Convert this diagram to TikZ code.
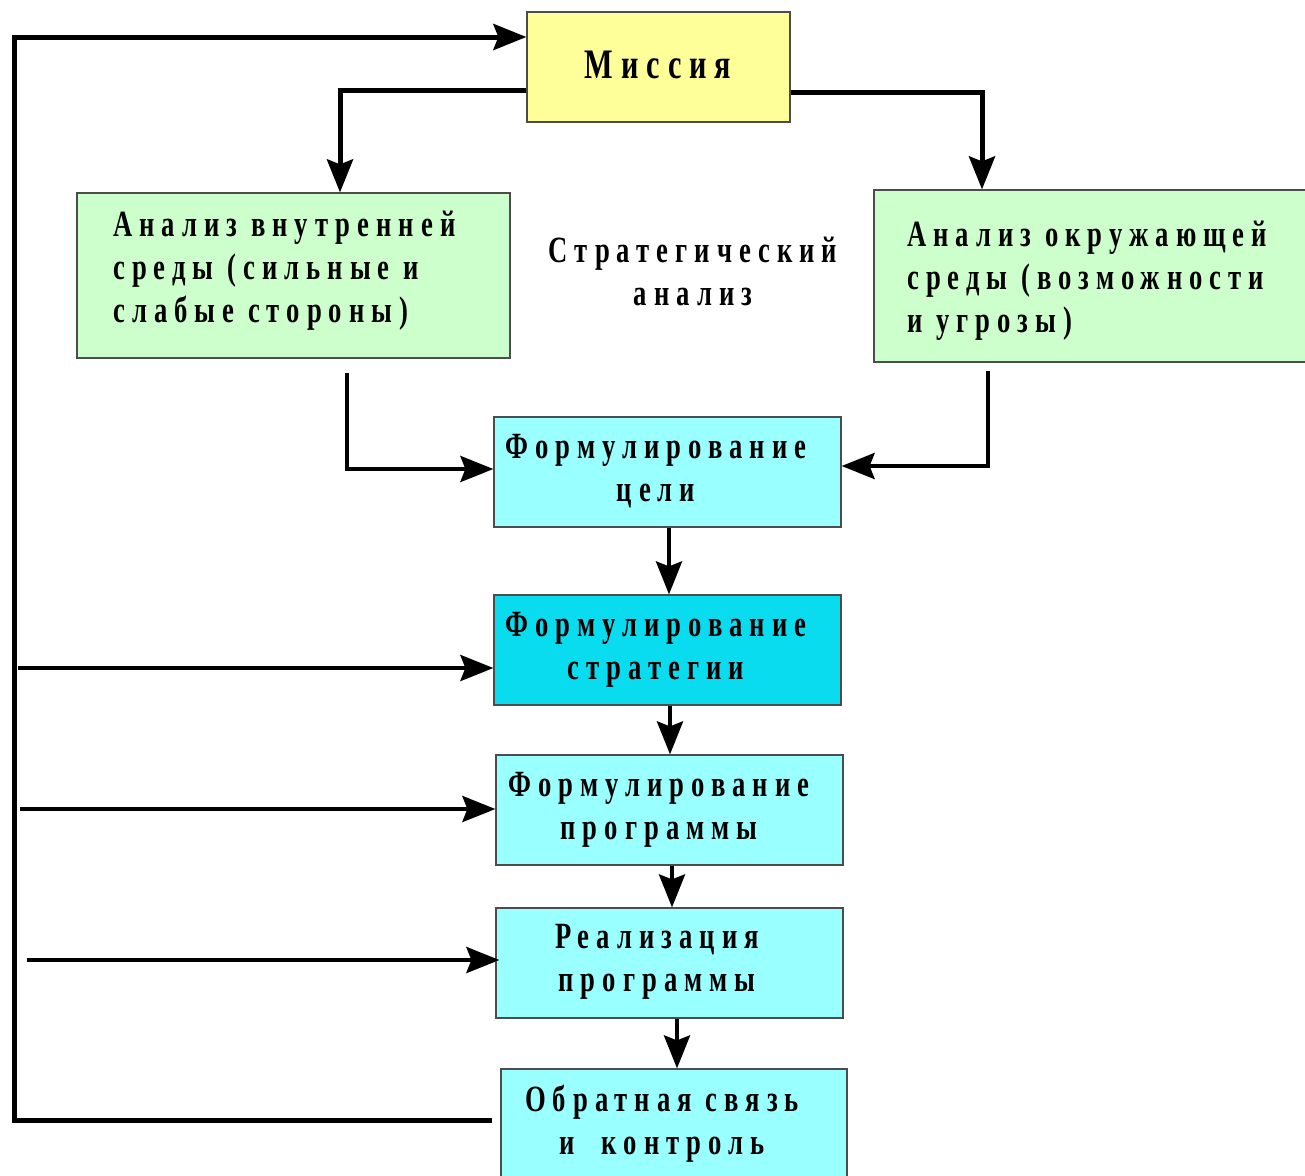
\documentclass[tikz,border=0pt]{standalone}
\usepackage{fontspec}
\setmainfont{Liberation Serif}
\newfontfamily\dfont{Liberation Serif}[FakeStretch=0.72,LetterSpace=19]
\usetikzlibrary{arrows.meta}
\definecolor{cyellow}{HTML}{FFFF99}
\definecolor{cgreen}{HTML}{CCFFCC}
\definecolor{clcyan}{HTML}{99FFFF}
\definecolor{cdcyan}{HTML}{0ADCF0}
\tikzset{
  box/.style={draw=black!70, line width=1.2pt, inner sep=0pt, rectangle},
  txt/.style={font=\dfont\bfseries\fontsize{37}{43}\selectfont, inner sep=0pt, align=left},
  ctxt/.style={txt, align=center},
  arr/.style={line width=4pt, -{Stealth[length=33pt,width=26pt,inset=5pt]}},
  fbline/.style={line width=5pt, line join=miter, -{Stealth[length=33pt,width=26pt,inset=5pt]}}
}
\begin{document}
\begin{tikzpicture}[x=1pt,y=-1pt]
\fill[white] (0,0) rectangle (1305,1175);
\useasboundingbox (0,0) rectangle (1305,1175);

% boxes
\node[box, fill=cyellow, minimum width=263pt, minimum height=110pt] (mis) at (658.5,67) {};
\node[box, fill=cgreen, minimum width=433pt, minimum height=165pt] (inl) at (293.5,275.5) {};
\node[box, fill=cgreen, minimum width=436pt, minimum height=172pt] (outr) at (1092,276) {};
\node[box, fill=clcyan, minimum width=347pt, minimum height=110pt] (goal) at (667.5,472) {};
\node[box, fill=cdcyan, minimum width=347pt, minimum height=110pt] (strat) at (667.5,650) {};
\node[box, fill=clcyan, minimum width=347pt, minimum height=110pt] (prog) at (669.5,810) {};
\node[box, fill=clcyan, minimum width=347pt, minimum height=110pt] (real) at (669.5,963) {};
\node[box, fill=clcyan, minimum width=346pt, minimum height=111pt] (fb) at (674,1124.5) {};

% texts
\node[ctxt, font=\dfont\bfseries\fontsize{42}{50}\selectfont] (tmis) at (658,65) {Миссия};
\node[txt, anchor=west] (tinl) at (113,270.5) {Анализ внутренней\\среды (сильные и\\слабые стороны)};
\node[txt, anchor=west] (toutr) at (907,280.5) {Анализ окружающей\\среды (возможности\\и угрозы)};
\node[ctxt] (tsa) at (693,271.5) {Стратегический\\анализ};
\node[ctxt] (tgoal) at (656,471.5) {Формулирование\\цели};
\node[ctxt] (tstrat) at (656,649.5) {Формулирование\\стратегии};
\node[ctxt] (tprog) at (659,809.5) {Формулирование\\программы};
\node[ctxt] (treal) at (657,961.5) {Реализация\\программы};
\node[ctxt] (tfb) at (662,1124) {Обратная связь\\и~~контроль};

% helper coordinates
\coordinate (lx) at (14,600);
\coordinate (s1) at (18,668);
\coordinate (s2) at (20,809);
\coordinate (s3) at (27,960);

% connectors
\draw[arr, line width=5pt] ([yshift=-23pt]mis.west) -| ([xshift=46.5pt]inl.north);
\draw[arr, line width=5pt] ([yshift=-25pt]mis.east) -| ([xshift=-110pt]outr.north);
\draw[arr] ([xshift=53.5pt,yshift=-14pt]inl.south) |- ([yshift=3pt]goal.west);
\draw[arr] ([xshift=-104pt,yshift=-8pt]outr.south) |- ([yshift=6pt]goal.east);
\draw[arr] ([xshift=1.5pt]goal.south) -- ([xshift=1.5pt]strat.north);
\draw[arr] ([xshift=2.5pt]strat.south) -- ([xshift=0.5pt]prog.north);
\draw[arr] ([xshift=2.5pt]prog.south) -- ([xshift=2.5pt]real.north);
\draw[arr] ([xshift=3pt]fb.north |- real.south) -- ([xshift=3pt]fb.north);
\draw[fbline] ([xshift=-8pt,yshift=4.5pt]fb.west) -| (lx) |- ([yshift=30pt]mis.west);
\draw[arr] (s1) -- (s1 -| strat.west);
\draw[arr] (s2) -- (s2 -| prog.west);
\draw[arr] (s3) -- ([xshift=4pt]s3 -| real.west);
\end{tikzpicture}
\end{document}
